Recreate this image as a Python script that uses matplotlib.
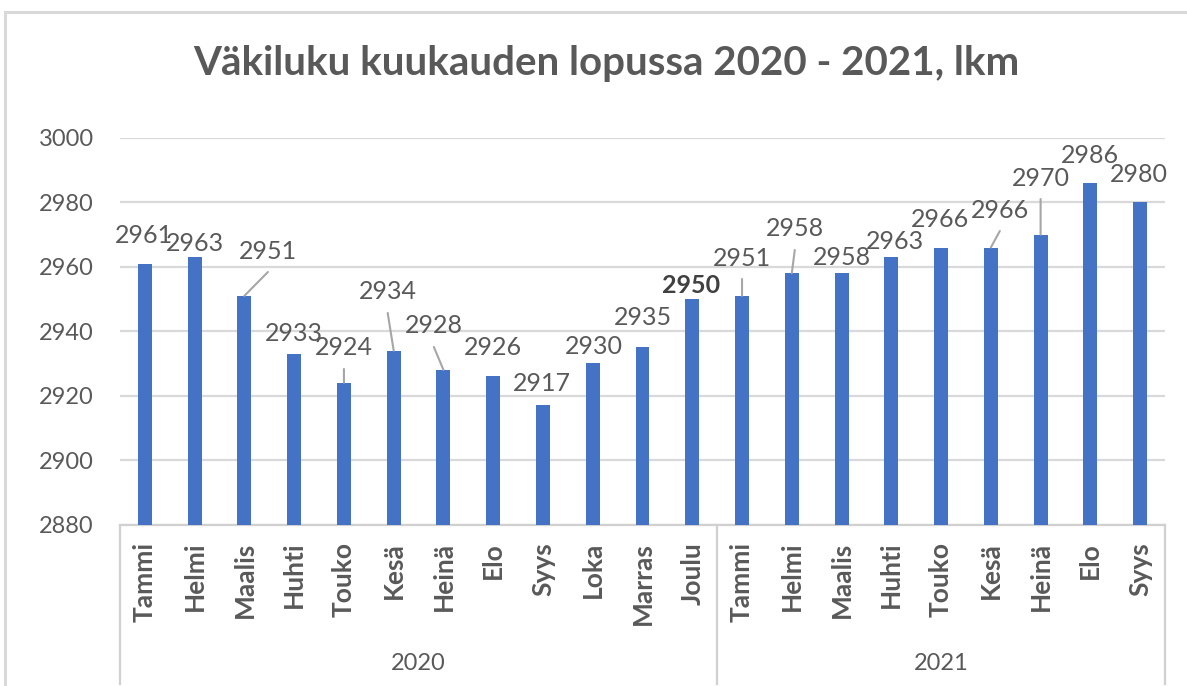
import matplotlib
matplotlib.use("Agg")
import matplotlib.pyplot as plt
from matplotlib.transforms import blended_transform_factory
from matplotlib.lines import Line2D
from matplotlib.patches import Rectangle

plt.rcParams['font.family'] = ['Lato', 'DejaVu Sans']

# ---- data ----
months = ["Tammi", "Helmi", "Maalis", "Huhti", "Touko", "Kesä", "Heinä", "Elo",
          "Syys", "Loka", "Marras", "Joulu",
          "Tammi", "Helmi", "Maalis", "Huhti", "Touko", "Kesä", "Heinä", "Elo", "Syys"]
values_2020 = [2961, 2963, 2951, 2933, 2924, 2934, 2928, 2926, 2917, 2930, 2935, 2950]
values_2021 = [2951, 2958, 2958, 2963, 2966, 2966, 2970, 2986, 2980]
years = ["2020", "2021"]
title = "Väkiluku kuukauden lopussa 2020 - 2021, lkm"
y_ticks = [2880, 2900, 2920, 2940, 2960, 2980, 3000]

values = values_2020 + values_2021
group_sizes = [len(values_2020), len(values_2021)]

# ---- label placement (offsets in pixels from bar top), leader flags ----
label_dx = [-1, 0, 23.5, 0, 0, -6, -9.6, 0, -1, 1, 0, -1,
            0, 3, 0, 3.5, -1, 9, 0, 0, -1]
label_dy = [28.6, 14, 44.8, 19.8, 34.8, 58.6, 43.9, 29.3, 22.3, 16.5, 29.4, 14,
            37.8, 44.3, 15.3, 15.2, 28.5, 37.5, 56.6, 28, 28.4]
leader = [False, False, True, False, True, True, True, False, False, False, False, False,
          True, True, False, False, False, True, True, False, False]
bold_label = [False] * 11 + [True] + [False] * 9

W, H = 1187, 686
fig = plt.figure(figsize=(W / 100, H / 100), dpi=100)
fig.patch.set_facecolor("white")

# chart border
fig.patches.append(Rectangle((5 / W, -0.05), 1.1, (H - 12) / H + 0.05,
                             transform=fig.transFigure, fill=False,
                             edgecolor="#D9D9D9", linewidth=2.2))

ax_left, ax_right = 120 / W, 1165 / W
ax_bottom, ax_top = (H - 524.5) / H, (H - 138) / H
ax = fig.add_axes([ax_left, ax_bottom, ax_right - ax_left, ax_top - ax_bottom])

x = list(range(len(values)))
ax.bar(x, values, width=0.28, color="#4472C4", zorder=3)
ax.set_xlim(-0.5, len(values) - 0.5)
ax.set_ylim(2880, 3000)
ax.set_yticks(y_ticks)
ax.set_yticklabels([str(t) for t in y_ticks], fontsize=17, color="#595959")
ax.tick_params(axis="y", length=0, pad=19)
ax.grid(axis="y", color="#D9D9D9", linewidth=1.6, zorder=0)
ax.set_axisbelow(True)
for s in ["top", "right", "left"]:
    ax.spines[s].set_visible(False)
ax.spines["bottom"].set_color("#D0D0D0")
ax.spines["bottom"].set_linewidth(1.6)

ax.set_xticks(x)
ax.set_xticklabels(months, rotation=90, fontsize=19, fontweight="bold",
                   color="#595959", va="top", ha="center")
ax.tick_params(axis="x", length=0, pad=12.5)

# data labels
for i, v in enumerate(values):
    ax.annotate(str(v), xy=(i, v), xytext=(label_dx[i], label_dy[i]),
                textcoords="offset pixels", ha="center", va="center",
                fontsize=18, color="#404040" if bold_label[i] else "#595959",
                fontweight="bold" if bold_label[i] else "normal", zorder=5)
    if leader[i]:
        ax.annotate("", xy=(i, v), xytext=(label_dx[i], label_dy[i] - 21),
                    textcoords="offset pixels",
                    arrowprops=dict(arrowstyle="-", color="#A6A6A6", lw=1.5,
                                    shrinkA=0, shrinkB=0), zorder=4)

# multi-level category axis
tr = blended_transform_factory(ax.transData, fig.transFigure)
bounds = [-0.5]
for g in group_sizes:
    bounds.append(bounds[-1] + g)
for b in bounds:
    fig.lines.append(Line2D([b, b], [ax_bottom, 2 / H], transform=tr,
                            color="#D0D0D0", linewidth=1.6))
for k, yr in enumerate(years):
    mid = (bounds[k] + bounds[k + 1]) / 2
    fig.text(mid, (H - 664) / H, yr, transform=tr, ha="center", va="center",
             fontsize=17, color="#595959")

fig.text(606 / W, (H - 63) / H, title, ha="center", va="center",
         fontsize=29, fontweight="bold", color="#595959")

fig.savefig("out.png", dpi=100)
